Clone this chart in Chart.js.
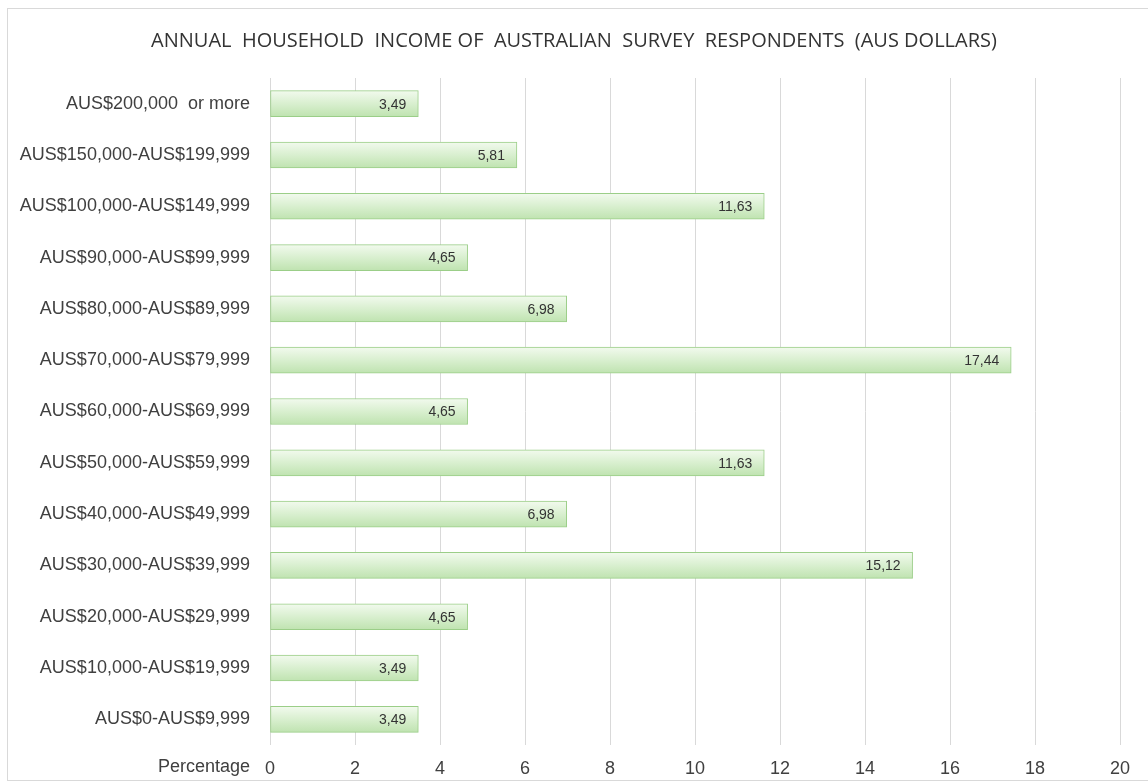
<!DOCTYPE html>
<html>
<head>
<meta charset="utf-8">
<title>Annual household income</title>
<script src="https://cdn.jsdelivr.net/npm/chart.js@4"></script>
<style>
    html, body { margin: 0; padding: 0; background: #fff; }
    #frame {
        position: absolute; left: 7px; top: 8px; width: 1150px; height: 771px;
        border: 1px solid #d9d9d9;
    }
    #wrap { position: absolute; left: 0; top: 0; width: 1148px; height: 783px; }
</style>
</head>
<body>
<div id="frame"></div>
<div id="wrap"><canvas id="incomeChart"></canvas></div>
<script>
const chartTitle = "ANNUAL  HOUSEHOLD  INCOME OF  AUSTRALIAN  SURVEY  RESPONDENTS  (AUS DOLLARS)";
const incomeBands = [
    "AUS$200,000  or more",
    "AUS$150,000-AUS$199,999",
    "AUS$100,000-AUS$149,999",
    "AUS$90,000-AUS$99,999",
    "AUS$80,000-AUS$89,999",
    "AUS$70,000-AUS$79,999",
    "AUS$60,000-AUS$69,999",
    "AUS$50,000-AUS$59,999",
    "AUS$40,000-AUS$49,999",
    "AUS$30,000-AUS$39,999",
    "AUS$20,000-AUS$29,999",
    "AUS$10,000-AUS$19,999",
    "AUS$0-AUS$9,999",
];
const percentages = [3.49, 5.81, 11.63, 4.65, 6.98, 17.44, 4.65, 11.63, 6.98, 15.12, 4.65, 3.49, 3.49];
const xTicks = [0, 2, 4, 6, 8, 10, 12, 14, 16, 18, 20];

const BAR_H = 26;
const textColor = "#404040";

// green bars, light at the top, darker towards the bottom
function barGradient(c) {
    const chart = c.chart;
    const yScale = chart.scales.y;
    if (!yScale || c.dataIndex === undefined) return "#d5edcb";
    const yc = yScale.getPixelForValue(c.dataIndex);
    if (!isFinite(yc)) return "#d5edcb";
    const g = chart.ctx.createLinearGradient(0, yc - BAR_H / 2, 0, yc + BAR_H / 2);
    g.addColorStop(0, "#f2faee");
    g.addColorStop(0.55, "#d6eecc");
    g.addColorStop(1, "#bfe3b0");
    return g;
}

// value text inside the end of each bar, decimal comma
const valueLabels = {
    id: "valueLabels",
    afterDatasetsDraw(chart) {
        const ctx = chart.ctx;
        const meta = chart.getDatasetMeta(0);
        ctx.save();
        ctx.font = "14px 'Liberation Sans', Arial, sans-serif";
        ctx.fillStyle = "#333";
        ctx.textAlign = "right";
        ctx.textBaseline = "middle";
        meta.data.forEach((bar, i) => {
            const txt = percentages[i].toFixed(2).replace(".", ",");
            ctx.fillText(txt, bar.x - 12, bar.y + 1);
        });
        ctx.restore();
    },
};

// title across the full width, and the "Percentage" caption by the x ticks
const captions = {
    id: "captions",
    afterDraw(chart) {
        const ctx = chart.ctx;
        const a = chart.chartArea;
        ctx.save();
        ctx.fillStyle = "#333";
        ctx.textAlign = "center";
        ctx.textBaseline = "middle";
        ctx.font = "20px 'Open Sans', sans-serif";
        ctx.fillText(chartTitle, chart.width / 2, 41);

        ctx.font = "18px 'Liberation Sans', Arial, sans-serif";
        ctx.fillStyle = textColor;
        ctx.textAlign = "right";
        ctx.fillText("Percentage", a.left - 20, a.bottom + 22);
        ctx.restore();
    },
};

new Chart(document.getElementById("incomeChart").getContext("2d"), {
    type: "bar",
    data: {
        labels: incomeBands,
        datasets: [
            {
                label: "Percentage",
                data: percentages,
                backgroundColor: barGradient,
                borderColor: "#9bce88",
                borderWidth: 1,
                borderSkipped: false,
                barThickness: BAR_H,
            },
        ],
    },
    options: {
        indexAxis: "y",
        responsive: true,
        maintainAspectRatio: false,
        animation: false,
        layout: { padding: { left: 0, right: 28, top: 78, bottom: 0 } },
        plugins: {
            legend: { display: false },
            tooltip: { enabled: false },
        },
        scales: {
            x: {
                min: 0,
                max: 20,
                afterBuildTicks: (axis) => { axis.ticks = xTicks.map((v) => ({ value: v })); },
                afterFit: (axis) => { axis.height = 38; },
                border: { display: false },
                grid: { color: "#d9d9d9", drawTicks: false },
                ticks: {
                    padding: 13,
                    color: textColor,
                    font: { family: "'Liberation Sans', Arial, sans-serif", size: 18 },
                },
            },
            y: {
                afterFit: (axis) => { axis.width = 270; },
                border: { display: false },
                grid: { display: false, drawTicks: false },
                ticks: {
                    padding: 20,
                    color: textColor,
                    font: { family: "'Liberation Sans', Arial, sans-serif", size: 18 },
                },
            },
        },
    },
    plugins: [valueLabels, captions],
});
</script>
</body>
</html>
